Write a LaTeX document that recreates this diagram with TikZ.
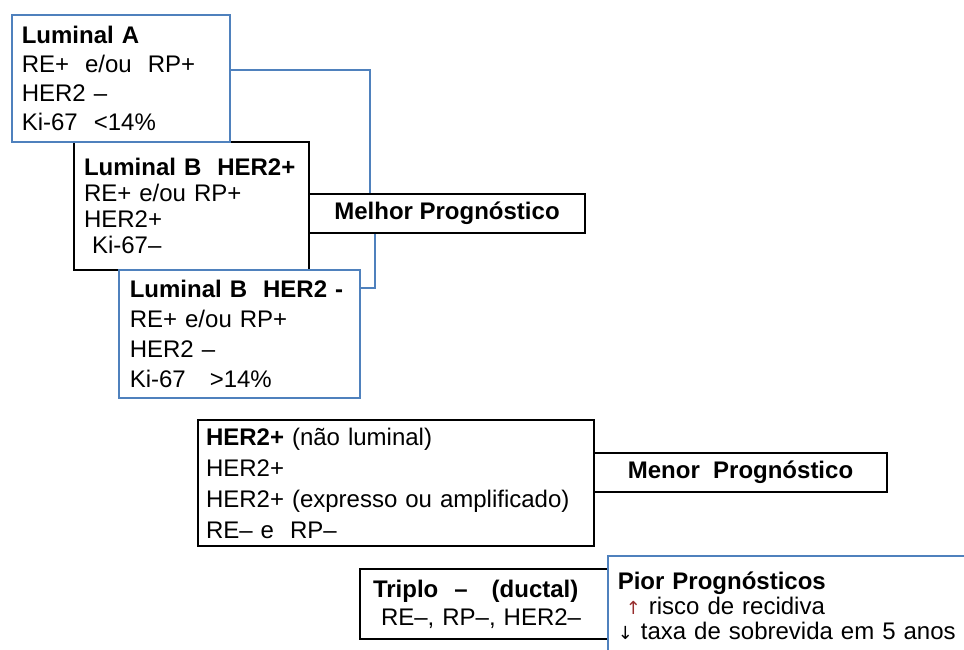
\documentclass[tikz,border=0pt]{standalone}
\usepackage{fontspec}
\setmainfont{Liberation Sans}
\newfontfamily\symfont{DejaVu Sans}
\usetikzlibrary{positioning}
\definecolor{lumblue}{RGB}{79,129,189}
\definecolor{arrowred}{RGB}{150,45,45}
\tikzset{
  box/.style={draw=black,line width=1pt,anchor=north west,align=left,
    inner xsep=5pt,inner ysep=0pt,font=\fontsize{12}{14.5}\selectfont},
  bluebox/.style={box,draw=lumblue,line width=0.8pt},
  progbox/.style={draw=black,line width=1pt,anchor=north west,inner sep=0pt,
    font=\bfseries\fontsize{12}{14.5}\selectfont},
  bluelink/.style={draw=lumblue,line width=0.8pt}
}

\begin{document}
\begin{tikzpicture}[x=0.5pt,y=-0.5pt]
  \useasboundingbox (0,0) rectangle (964,649);
  \clip (0,0) rectangle (964,649);
  % black boxes first
  \node[box,text width=107.5pt,minimum height=64pt,font=\fontsize{12}{13}\selectfont] (lumBpos) at (73,141)
    {\textbf{Luminal B\ \ HER2+}\\ RE+ e/ou RP+\\ HER2+\\ \ Ki-67–};
  \node[progbox,minimum width=138pt,minimum height=19.5pt] (melhor) at (308,193) {Melhor Prognóstico};
  \node[box,inner xsep=4pt,text width=190pt,minimum height=63pt,font=\fontsize{12}{15.5}\selectfont] (her2) at (197,419)
    {\textbf{HER2+} (não luminal)\\ HER2+\\ HER2+ (expresso ou amplificado)\\ RE– e\ \ RP–};
  \node[progbox,minimum width=146.5pt,minimum height=19.5pt] (menor) at (593,452) {Menor\ \ Prognóstico};
  \node[box,inner xsep=6.5pt,text width=111pt,minimum height=35pt,font=\fontsize{12}{14}\selectfont] (triplo) at (359,568)
    {\textbf{Triplo\ \ –\ \ \ (ductal)}\\ \ RE–, RP–, HER2–};
  % blue boxes on top
  \node[bluebox,text width=99pt,minimum height=63.5pt] (lumA) at (11,14)
    {\textbf{Luminal A}\\ RE+\ \ e/ou\ \ RP+\\ HER2 –\\ Ki-67\ \ <14\%};
  \node[bluebox,inner xsep=5.5pt,text width=109.5pt,minimum height=64pt,font=\fontsize{12}{15}\selectfont] (lumBneg) at (118,269)
    {\textbf{Luminal B\ \ HER2 -}\\ RE+ e/ou RP+\\ HER2 –\\ Ki-67\ \ \ >14\%};
  \node[bluebox,text width=176pt,minimum height=50pt,font=\fontsize{12}{12.5}\selectfont] (pior) at (607,555)
    {\textbf{Pior Prognósticos}\\
     \ {\symfont\fontsize{9}{9}\selectfont\color{arrowred}↑} risco de recidiva\\
     {\symfont\fontsize{9}{9}\selectfont ↓} taxa de sobrevida em 5 anos};
  % connectors
  \coordinate (jA) at (370,70);
  \coordinate (jB) at (375,288);
  \draw[bluelink] (lumA.east |- jA) -- (jA) -- (jA |- melhor.north);
  \draw[bluelink] (melhor.south -| jB) -- (jB) -- (jB -| lumBneg.east);
\end{tikzpicture}
\end{document}
